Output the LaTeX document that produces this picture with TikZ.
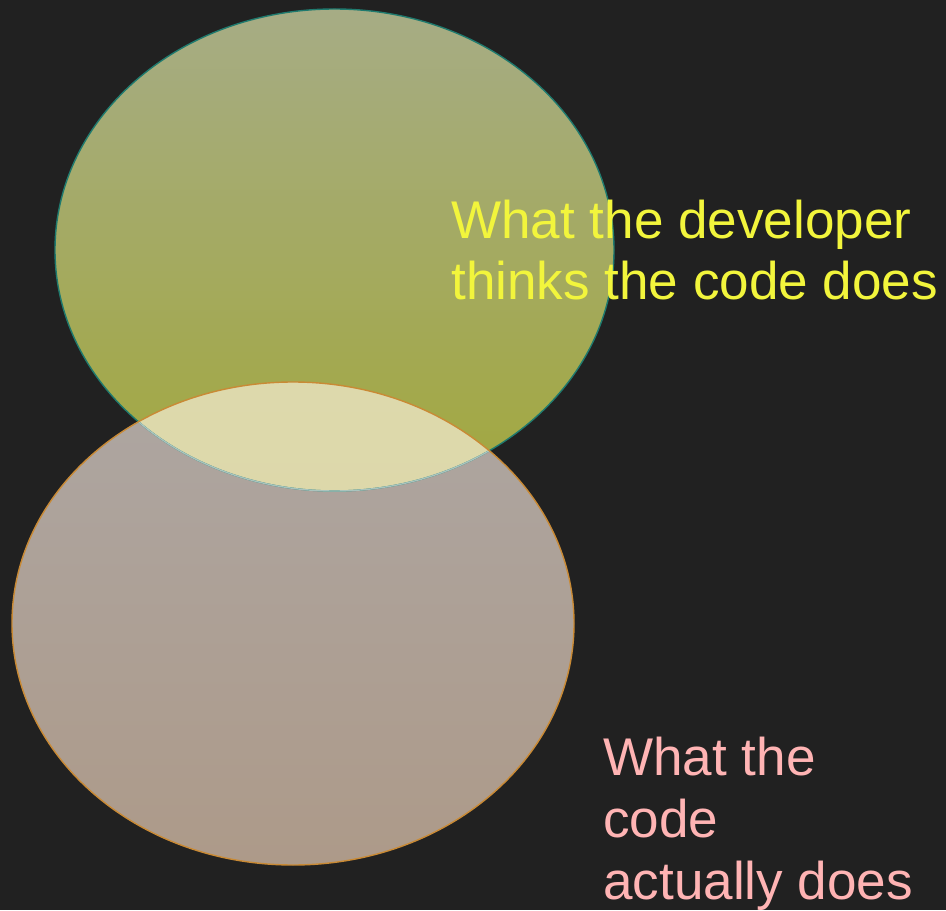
\documentclass[tikz,border=0pt]{standalone}
\usepackage{fontspec}
\setmainfont{Liberation Sans}
\usetikzlibrary{positioning}
\definecolor{bgdark}{HTML}{212121}
\definecolor{thinktop}{HTML}{A6AC85}
\definecolor{thinkbot}{HTML}{A2A83E}
\definecolor{doestop}{HTML}{ADA6A2}
\definecolor{doesbot}{HTML}{AD9A89}
\definecolor{bothtop}{HTML}{DDD9AC}
\definecolor{bothbot}{HTML}{DBD6A4}
\definecolor{tealline}{HTML}{1F7A6E}
\definecolor{orangeline}{HTML}{C98A35}
\definecolor{paleline}{HTML}{A9C4BE}
\definecolor{thinktext}{HTML}{F2F53C}
\definecolor{doestext}{HTML}{FFB4B4}
\tikzstyle{label} = [inner sep=0pt, align=left, font=\fontsize{30.2}{35.2}\selectfont]

\begin{document}
\begin{tikzpicture}[x=0.02cm,y=-0.02cm]
\fill[bgdark] (0,0) rectangle (946,910);
\shade[top color=thinktop, bottom color=thinkbot] (334.5,250) ellipse (279.5 and 241);
\shade[top color=doestop, bottom color=doesbot] (293,623.5) ellipse (281 and 241.5);
\begin{scope}
\clip (334.5,250) ellipse (279.5 and 241);
\shade[top color=bothtop, bottom color=bothbot] (293,623.5) ellipse (281 and 241.5);
\end{scope}
\draw[tealline, thick] (334.5,250) ellipse (279.5 and 241);
\begin{scope}
\clip (293,623.5) ellipse (281 and 241.5);
\draw[paleline, thick] (334.5,250) ellipse (279.5 and 241);
\end{scope}
\draw[orangeline, thick] (293,623.5) ellipse (281 and 241.5);

\node[label, thinktext, anchor=base west] (thinks) at (451,300) {What the developer\\thinks the code does};
\node[label, doestext, anchor=base west] (does) at (603,899) {What the\\code\\actually does};
\end{tikzpicture}
\end{document}
